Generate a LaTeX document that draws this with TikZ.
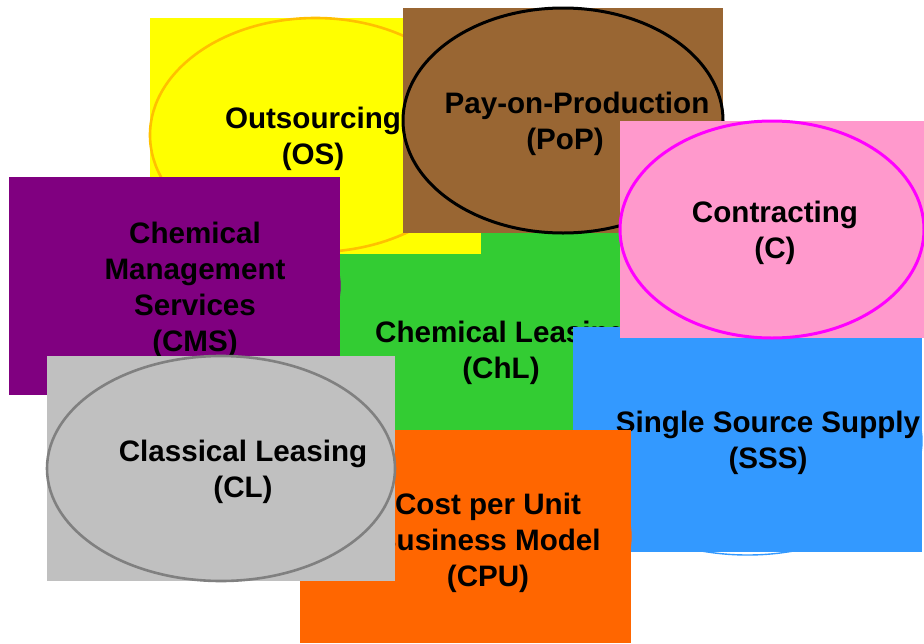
\documentclass[tikz,border=0pt]{standalone}
\usepackage{fontspec}
\setmainfont{Liberation Sans}
\usetikzlibrary{shapes.geometric}
\definecolor{cY}{HTML}{FFFF00}
\definecolor{cYring}{HTML}{FFC000}
\definecolor{cBr}{HTML}{996633}
\definecolor{cPk}{HTML}{FF99CC}
\definecolor{cPkring}{HTML}{FF00FF}
\definecolor{cPu}{HTML}{800080}
\definecolor{cGr}{HTML}{33CC33}
\definecolor{cBl}{HTML}{3399FF}
\definecolor{cOr}{HTML}{FF6600}
\definecolor{cGy}{HTML}{C0C0C0}
\definecolor{cGyring}{HTML}{808080}
\newcommand{\lbfont}{\bfseries\fontsize{29.6}{36}\selectfont}
\tikzset{
  panel/.style={rectangle, draw=none, inner sep=0pt, outer sep=0pt},
  ring/.style={ellipse, inner sep=0pt, line width=2.6pt},
  samering/.style={ellipse, inner sep=0pt, line width=1.4pt},
  lbl/.style={font=\lbfont, align=center, inner sep=0pt, text=black},
}
\begin{document}
\begin{tikzpicture}[x=1pt,y=-1pt]
\useasboundingbox (0,0) rectangle (924,643);
% Chemical Leasing (green)
\node[panel, fill=cGr, minimum width=322pt, minimum height=237pt] (chlbox) at (501,351.5) {};
\node[samering, draw=cGr, minimum width=320pt, minimum height=235pt] (chlring) at (501,351.5) {};
\node[lbl] (chllbl) at (501,353) {Chemical Leasing\\(ChL)};
% Outsourcing (yellow)
\node[panel, fill=cY, minimum width=331pt, minimum height=236pt] (osbox) at (315.5,136) {};
\node[ring, draw=cYring, minimum width=331pt, minimum height=234pt] (osring) at (315.5,135) {};
\node[lbl] (oslbl) at (313,139) {Outsourcing\\(OS)};
% Pay-on-Production (brown)
\node[panel, fill=cBr, minimum width=320pt, minimum height=225pt] (popbox) at (563,120.5) {};
\node[ring, draw=black, line width=3pt, minimum width=320pt, minimum height=225pt] (popring) at (563,120.5) {};
\node[lbl] (poplbl) at (577,124) {Pay-on-Production\\(PoP)\hspace*{24pt}};
% Chemical Management Services (purple)
\node[panel, fill=cPu, minimum width=331pt, minimum height=218pt] (cmsbox) at (174.5,286) {};
\node[samering, draw=cPu, minimum width=329pt, minimum height=216pt] (cmsring) at (175.5,286) {};
\node[lbl] (cmslbl) at (195,290) {Chemical\\Management\\Services\\(CMS)};
% Single Source Supply (blue)
\node[panel, fill=cBl, minimum width=349pt, minimum height=225pt] (sssbox) at (747.5,439.5) {};
\node[samering, draw=cBl, minimum width=349pt, minimum height=228pt] (sssring) at (747.5,441) {};
\node[lbl] (ssslbl) at (768,443) {Single Source Supply\\(SSS)};
% Contracting (pink)
\node[panel, fill=cPk, minimum width=304pt, minimum height=217pt] (cbox) at (772,229.5) {};
\node[ring, draw=cPkring, line width=3pt, minimum width=304pt, minimum height=217pt] (cring) at (772,229.5) {};
\node[lbl] (clbl) at (775,233) {Contracting\\(C)};
% Cost per Unit Business Model (orange)
\node[panel, fill=cOr, minimum width=331pt, minimum height=213pt] (cpubox) at (465.5,536.5) {};
\node[samering, draw=cOr, minimum width=331pt, minimum height=211pt] (cpuring) at (465.5,536.5) {};
\node[lbl] (cpulbl) at (488,543) {Cost per Unit\\Business Model\\(CPU)};
% Classical Leasing (gray)
\node[panel, fill=cGy, minimum width=348pt, minimum height=225pt] (clbox) at (221,468.5) {};
\node[ring, draw=cGyring, minimum width=348pt, minimum height=225pt] (clring) at (221,468.5) {};
\node[lbl] (cllbl) at (243,472) {Classical Leasing\\(CL)};
\end{tikzpicture}
\end{document}
